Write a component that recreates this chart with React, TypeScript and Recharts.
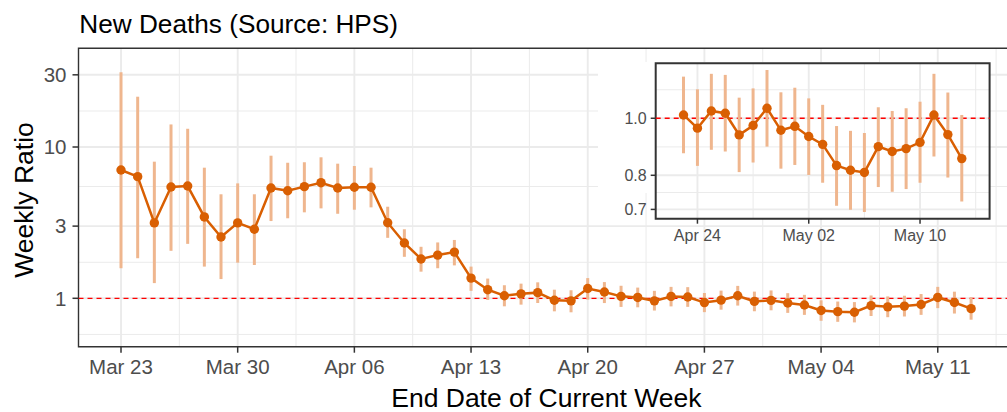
import React from 'react';
import {
  ComposedChart,
  Line,
  XAxis,
  YAxis,
  CartesianGrid,
  ReferenceLine,
  ReferenceArea,
  ErrorBar,
} from 'recharts';

// ---------- data ----------
const dates = [
  '2020-03-23', '2020-03-24', '2020-03-25', '2020-03-26', '2020-03-27', '2020-03-28', '2020-03-29',
  '2020-03-30', '2020-03-31', '2020-04-01', '2020-04-02', '2020-04-03', '2020-04-04', '2020-04-05',
  '2020-04-06', '2020-04-07', '2020-04-08', '2020-04-09', '2020-04-10', '2020-04-11', '2020-04-12',
  '2020-04-13', '2020-04-14', '2020-04-15', '2020-04-16', '2020-04-17', '2020-04-18', '2020-04-19',
  '2020-04-20', '2020-04-21', '2020-04-22', '2020-04-23', '2020-04-24', '2020-04-25', '2020-04-26',
  '2020-04-27', '2020-04-28', '2020-04-29', '2020-04-30', '2020-05-01', '2020-05-02', '2020-05-03',
  '2020-05-04', '2020-05-05', '2020-05-06', '2020-05-07', '2020-05-08', '2020-05-09', '2020-05-10',
  '2020-05-11', '2020-05-12', '2020-05-13',
];

const ratio = [
  7.05, 6.37, 3.15, 5.44, 5.52, 3.45, 2.54,
  3.15, 2.86, 5.36, 5.14, 5.47, 5.81, 5.36,
  5.42, 5.42, 3.16, 2.32, 1.82, 1.93, 2.02,
  1.36, 1.14, 1.04, 1.07, 1.09, 0.97, 0.962,
  1.16, 1.10, 1.03, 1.013, 0.962, 1.029, 1.02,
  0.937, 0.972, 1.04, 0.954, 0.969, 0.931, 0.903,
  0.831, 0.816, 0.809, 0.895, 0.878, 0.888, 0.91,
  1.013, 0.938, 0.854,
];

const lower = [
  1.58, 1.84, 1.26, 2.06, 2.29, 1.62, 1.34,
  1.72, 1.66, 3.24, 3.38, 3.70, 3.93, 3.62,
  3.85, 3.99, 2.51, 1.88, 1.50, 1.58, 1.65,
  1.12, 0.975, 0.885, 0.908, 0.931, 0.82, 0.808,
  0.98, 0.93, 0.877, 0.872, 0.83, 0.884, 0.878,
  0.81, 0.841, 0.895, 0.821, 0.833, 0.801, 0.777,
  0.71, 0.699, 0.693, 0.764, 0.75, 0.758, 0.777,
  0.861, 0.793, 0.722,
];

const upper = [
  31.2, 21.5, 8.0, 14.1, 13.2, 7.3, 4.87,
  5.75, 4.87, 8.76, 7.87, 7.93, 8.55, 7.76,
  7.49, 7.30, 4.03, 2.86, 2.19, 2.34, 2.43,
  1.62, 1.35, 1.22, 1.25, 1.275, 1.14, 1.13,
  1.36, 1.28, 1.21, 1.177, 1.12, 1.19, 1.185,
  1.084, 1.124, 1.208, 1.107, 1.127, 1.081, 1.054,
  0.97, 0.952, 0.944, 1.044, 1.029, 1.04, 1.067,
  1.19, 1.106, 1.013,
];

const mainTickDates = ['2020-03-23', '2020-03-30', '2020-04-06', '2020-04-13', '2020-04-20', '2020-04-27', '2020-05-04', '2020-05-11'];
const mainTickLabels = ['Mar 23', 'Mar 30', 'Apr 06', 'Apr 13', 'Apr 20', 'Apr 27', 'May 04', 'May 11'];
const mainYTicks = [1, 3, 10, 30];
const mainYMinor = [0.577, 1.73, 5.48, 17.3];

const insetStartDate = '2020-04-23';
const insetTickDates = ['2020-04-24', '2020-05-02', '2020-05-10'];
const insetTickLabels = ['Apr 24', 'May 02', 'May 10'];
const insetMinorDates = ['2020-04-28', '2020-05-06', '2020-05-14'];
const insetYTicks = [0.7, 0.8, 1.0];
const insetYMinor = [0.748, 0.894, 1.118];

const titleText = 'New Deaths (Source: HPS)';
const xTitle = 'End Date of Current Week';
const yTitle = 'Weekly Ratio';

// ---------- helpers ----------
const DAY = 86400000;
const t0 = Date.parse(dates[0]);
const dayOf = (s: string) => Math.round((Date.parse(s) - t0) / DAY);

const data = dates.map((d, i) => ({
  x: dayOf(d),
  y: ratio[i],
  err: [ratio[i] - lower[i], upper[i] - ratio[i]],
}));

const insetData = data.slice(dates.indexOf(insetStartDate));

const mainTicks = mainTickDates.map(dayOf);
const mainMinorX = mainTicks.map((t) => t + 3.5);
const mainLabelOf = (v: number) => {
  const i = mainTicks.indexOf(v);
  return i >= 0 ? mainTickLabels[i] : '';
};

const insetTicks = insetTickDates.map(dayOf);
const insetMinorX = insetMinorDates.map(dayOf);
const insetLabelOf = (v: number) => {
  const i = insetTicks.indexOf(v);
  return i >= 0 ? insetTickLabels[i] : '';
};

const FONT = '"Liberation Sans", Arial, Helvetica, sans-serif';
const ORANGE = '#D95F02';
const BAR = '#EFB68E';
const GRID = '#EBEBEB';

const mainXDomain = [-2.55, 53.55];
const mainYDomain = [0.4787, 44.92];
const insetXDomain = [29, 53];
const insetYDomain = [0.675, 1.24];

export default function App() {
  return (
    <div
      style={{
        position: 'absolute',
        left: 0,
        top: 0,
        width: 1007,
        height: 412,
        overflow: 'hidden',
        background: '#fff',
        fontFamily: FONT,
      }}
    >
      {/* main chart */}
      <div style={{ position: 'absolute', left: 0, top: 0 }}>
        <ComposedChart
          width={1020}
          height={412}
          data={data}
          margin={{ top: 48.3, right: 6.4, bottom: 25.3, left: 0 }}
        >
          <CartesianGrid
            fill="#fff"
            stroke={GRID}
            strokeWidth={1}
            verticalValues={mainMinorX}
            horizontalValues={mainYMinor}
          />
          <CartesianGrid
            stroke={GRID}
            strokeWidth={1.9}
            verticalValues={mainTicks}
            horizontalValues={mainYTicks}
          />
          <XAxis
            dataKey="x"
            type="number"
            domain={mainXDomain}
            allowDataOverflow
            ticks={mainTicks}
            tickFormatter={mainLabelOf}
            interval={0}
            height={40}
            axisLine={false}
            tickLine={{ stroke: '#333333', strokeWidth: 1.5 }}
            tickSize={6}
            tickMargin={7}
            tick={{ fill: '#4D4D4D', fontSize: 20.5, fontFamily: FONT }}
          />
          <YAxis
            type="number"
            scale="log"
            domain={mainYDomain}
            allowDataOverflow
            ticks={mainYTicks}
            interval={0}
            width={78.5}
            axisLine={false}
            tickLine={{ stroke: '#333333', strokeWidth: 1.5 }}
            tickSize={6}
            tickMargin={6}
            tick={{ fill: '#4D4D4D', fontSize: 20.5, fontFamily: FONT }}
          />
          <ReferenceLine y={1} stroke="#FF0000" strokeWidth={1.3} strokeDasharray="5 4" />
          <Line
            dataKey="y"
            stroke="none"
            dot={false}
            activeDot={false}
            isAnimationActive={false}
          >
            <ErrorBar dataKey="err" direction="y" width={0} stroke={BAR} strokeWidth={3} isAnimationActive={false} />
          </Line>
          <Line
            dataKey="y"
            stroke={ORANGE}
            strokeWidth={2.5}
            dot={{ r: 4.7, fill: ORANGE, stroke: 'none' }}
            activeDot={false}
            isAnimationActive={false}
          />
          <ReferenceArea
            x1={mainXDomain[0]}
            x2={mainXDomain[1]}
            y1={mainYDomain[0]}
            y2={mainYDomain[1]}
            fill="none"
            stroke="#333333"
            strokeWidth={1.4}
            ifOverflow="visible"
          />
        </ComposedChart>
      </div>

      {/* inset background */}
      <div style={{ position: 'absolute', left: 598, top: 62, width: 391.6, height: 131, background: '#fff' }} />

      {/* inset chart */}
      <div style={{ position: 'absolute', left: 598, top: 62 }}>
        <ComposedChart
          width={400}
          height={190}
          data={insetData}
          margin={{ top: 1.3, right: 8.4, bottom: 3.3, left: 0 }}
        >
          <CartesianGrid
            fill="#fff"
            stroke={GRID}
            strokeWidth={1}
            verticalValues={insetMinorX}
            horizontalValues={insetYMinor}
          />
          <CartesianGrid
            stroke={GRID}
            strokeWidth={1.9}
            verticalValues={insetTicks}
            horizontalValues={insetYTicks}
          />
          <XAxis
            dataKey="x"
            type="number"
            domain={insetXDomain}
            allowDataOverflow
            ticks={insetTicks}
            tickFormatter={insetLabelOf}
            interval={0}
            height={30}
            axisLine={false}
            tickLine={{ stroke: '#333333', strokeWidth: 1.5 }}
            tickSize={5}
            tickMargin={6}
            tick={{ fill: '#4D4D4D', fontSize: 16, fontFamily: FONT }}
          />
          <YAxis
            type="number"
            scale="log"
            domain={insetYDomain}
            allowDataOverflow
            ticks={insetYTicks}
            interval={0}
            tickFormatter={(v: number) => v.toFixed(1)}
            width={57.7}
            axisLine={false}
            tickLine={{ stroke: '#333333', strokeWidth: 1.5 }}
            tickSize={5}
            tickMargin={4}
            tick={{ fill: '#4D4D4D', fontSize: 16, fontFamily: FONT }}
          />
          <ReferenceLine y={1} stroke="#FF0000" strokeWidth={1.3} strokeDasharray="5 4" />
          <Line
            dataKey="y"
            stroke="none"
            dot={false}
            activeDot={false}
            isAnimationActive={false}
          >
            <ErrorBar dataKey="err" direction="y" width={0} stroke={BAR} strokeWidth={3} isAnimationActive={false} />
          </Line>
          <Line
            dataKey="y"
            stroke={ORANGE}
            strokeWidth={2.5}
            dot={{ r: 4.7, fill: ORANGE, stroke: 'none' }}
            activeDot={false}
            isAnimationActive={false}
          />
          <ReferenceArea
            x1={insetXDomain[0]}
            x2={insetXDomain[1]}
            y1={insetYDomain[0]}
            y2={insetYDomain[1]}
            fill="none"
            stroke="#333333"
            strokeWidth={2}
            ifOverflow="visible"
          />
        </ComposedChart>
      </div>

      {/* titles */}
      <svg
        width={1007}
        height={412}
        style={{ position: 'absolute', left: 0, top: 0, pointerEvents: 'none' }}
      >
        <text x={79.3} y={33} fontSize={26.2} fill="#000" fontFamily={FONT}>
          {titleText}
        </text>
        <text x={546.4} y={406.5} fontSize={26.5} fill="#000" fontFamily={FONT} textAnchor="middle">
          {xTitle}
        </text>
        <text
          x={33}
          y={200}
          fontSize={26.5}
          fill="#000"
          fontFamily={FONT}
          textAnchor="middle"
          transform="rotate(-90, 33, 200)"
        >
          {yTitle}
        </text>
      </svg>
    </div>
  );
}
